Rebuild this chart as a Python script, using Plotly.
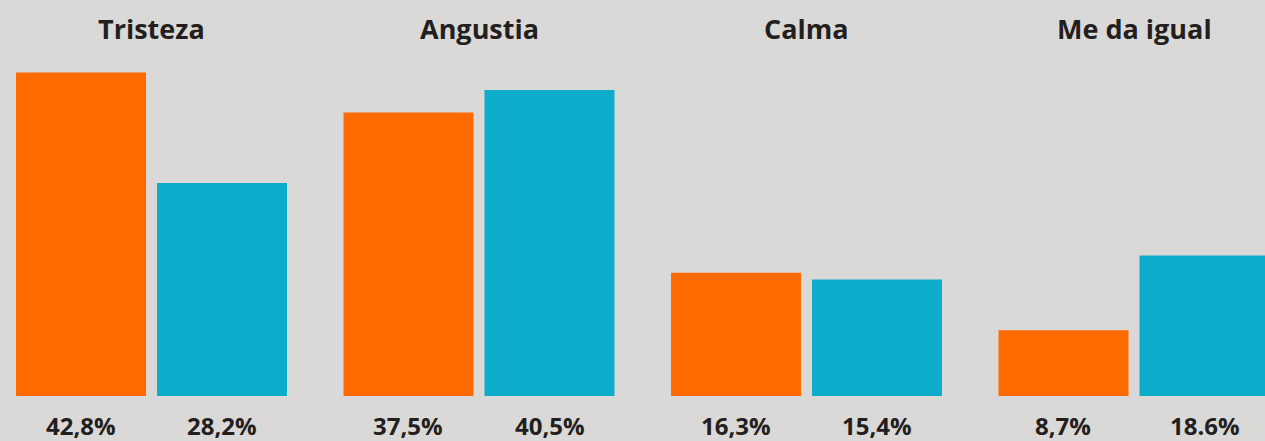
import plotly.graph_objects as go

# datos
categorias = ["Tristeza", "Angustia", "Calma", "Me da igual"]
serie_a = [42.8, 37.5, 16.3, 8.7]
serie_b = [28.2, 40.5, 15.4, 18.6]
etiquetas_a = ["42,8%", "37,5%", "16,3%", "8,7%"]
etiquetas_b = ["28,2%", "40,5%", "15,4%", "18.6%"]

naranja = "#ff6a00"
cian = "#0eaccb"
fondo = "#dad9d7"
texto = "#231f20"

pos = list(range(len(categorias)))

fig = go.Figure()
fig.add_trace(go.Bar(x=pos, y=serie_a, marker=dict(color=naranja, line_width=0),
                     hoverinfo="skip"))
fig.add_trace(go.Bar(x=pos, y=serie_b, marker=dict(color=cian, line_width=0),
                     hoverinfo="skip"))

# títulos de grupo arriba
for i, cat in enumerate(categorias):
    fig.add_annotation(x=i, y=1, xref="x", yref="paper", yanchor="middle",
                       yshift=-28, text="<b>%s</b>" % cat, showarrow=False,
                       font=dict(family="Open Sans", size=27, color=texto))

# porcentajes abajo
desp = 0.2153
for i in pos:
    for dx, lab in ((-desp, etiquetas_a[i]), (desp, etiquetas_b[i])):
        fig.add_annotation(x=i + dx, y=0, xref="x", yref="y", yanchor="middle",
                           yshift=-29, borderpad=0, text="<b>%s</b>" % lab,
                           showarrow=False,
                           font=dict(family="Open Sans", size=24, color=texto))

fig.update_layout(
    width=1265, height=441,
    barmode="group", bargap=0.139, bargroupgap=0.078,
    plot_bgcolor=fondo, paper_bgcolor=fondo,
    margin=dict(l=0, r=0, t=0, b=45),
    showlegend=False,
    xaxis=dict(range=[-0.4626, 3.4], visible=False, fixedrange=True),
    yaxis=dict(range=[0, 52.4], visible=False, fixedrange=True),
)

fig.write_html("out.html", config={"displayModeBar": False},
               post_script="document.body.style.margin='0';")
